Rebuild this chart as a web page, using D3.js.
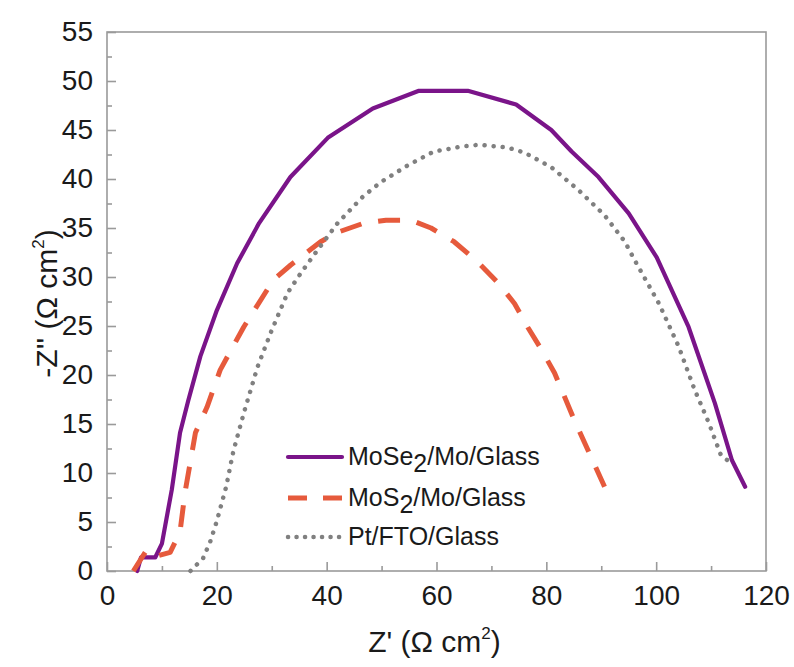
<!DOCTYPE html>
<html>
<head>
<meta charset="utf-8">
<script src="https://cdn.jsdelivr.net/npm/d3@7"></script>
<style>
	body { margin: 0; background: #fff; }
	svg { display: block; }
</style>
</head>
<body>
<svg id="chart" width="794" height="667"></svg>
<script>
// Nyquist plots: [Z', -Z'']
var mose2 = [[5.5,0],[6.2,1.4],[8.8,1.4],[10,2.8],[11.8,8.3],[13.3,14.1],[14.8,17.4],[17,21.9],[20,26.6],[23.7,31.4],[27.7,35.5],[33.4,40.2],[40.2,44.2],[48.4,47.2],[56.8,49],[61.4,49],[65.7,49],[74.5,47.6],[80.9,45],[84.6,42.8],[89.5,40.2],[95,36.5],[100.1,32],[105.9,24.9],[110.7,17.1],[113.8,11.3],[116.2,8.6]];
var mos2 = [[4.8,0],[7.3,2.2],[9.5,1.6],[11.5,1.9],[13.3,4],[14.2,8],[16.1,14.1],[18.2,16.7],[20.6,20.5],[24.9,24.9],[30.3,29.7],[33.4,31.2],[38.9,33.6],[42.2,34.6],[46.8,35.5],[50.8,35.8],[55.3,35.8],[59,35],[63.2,33.6],[67.2,31.7],[71.2,29.4],[74.2,27.3],[76.7,24.8],[79.1,22.6],[81.5,20.2],[85.1,15.4],[90.6,8.6]];
var ptfto = [[15.2,0],[17.5,1.3],[18.8,3],[20,5.1],[21.7,8.6],[23,12.2],[24.9,16.1],[27.4,20.8],[29.8,24.3],[32.9,28.4],[35.3,30.4],[38.4,32.8],[42,35.5],[46.6,38.2],[49.9,39.7],[54.8,41.4],[59.5,42.8],[64.5,43.3],[67.8,43.5],[73,43.2],[76,42.7],[80.9,41.2],[85.8,38.9],[90.6,36.3],[94.3,33.6],[96.1,31.7],[100.5,27.3],[104.1,22.9],[107,18.5],[109.6,15.1],[111.8,11.8],[114.2,10.8]];

var xTicks = [0,20,40,60,80,100,120];
var xMinor = [10,30,50,70,90,110];
var yTicks = [0,5,10,15,20,25,30,35,40,45,50,55];
var yMinor = [2.5,7.5,12.5,17.5,22.5,27.5,32.5,37.5,42.5,47.5,52.5];

var seriesNames = [["MoSe","2","/Mo/Glass"],["MoS","2","/Mo/Glass"],["Pt/FTO/Glass","",""]];

var margin = {top: 32, right: 28, bottom: 96, left: 107};
var width = 794 - margin.left - margin.right;
var height = 667 - margin.top - margin.bottom;
var font = "Liberation Sans, Arial, sans-serif";
var axisColour = "#9a9a9a";
var textColour = "#1a1a1a";

var x = d3.scaleLinear().domain([0,120]).range([0,width]);
var y = d3.scaleLinear().domain([0,55]).range([height,0]);

var svg = d3.select("#chart")
	.append("g")
		.attr("transform","translate("+margin.left+","+margin.top+")");

// frame
svg.append("rect")
	.attr("width",width)
	.attr("height",height)
	.attr("fill","none")
	.attr("stroke",axisColour)
	.attr("stroke-width",1.6);

// ticks point inward, labels outside
var xAxis = d3.axisBottom(x).tickValues(xTicks).tickSize(-9).tickPadding(14).tickFormat(d3.format("d"));
var gx = svg.append("g")
	.attr("transform","translate(0,"+height+")")
	.call(xAxis);
gx.select(".domain").remove();
gx.selectAll("line").attr("stroke",axisColour).attr("stroke-width",1.6);
gx.selectAll("text").attr("font-family",font).attr("font-size",28).attr("fill",textColour);

var gxm = svg.append("g")
	.attr("transform","translate(0,"+height+")")
	.call(d3.axisBottom(x).tickValues(xMinor).tickSize(-5).tickFormat(""));
gxm.select(".domain").remove();
gxm.selectAll("line").attr("stroke",axisColour).attr("stroke-width",1.6);

var yAxis = d3.axisLeft(y).tickValues(yTicks).tickSize(-9).tickPadding(14).tickFormat(d3.format("d"));
var gy = svg.append("g").call(yAxis);
gy.select(".domain").remove();
gy.selectAll("line").attr("stroke",axisColour).attr("stroke-width",1.6);
gy.selectAll("text").attr("font-family",font).attr("font-size",28).attr("fill",textColour);

var gym = svg.append("g")
	.call(d3.axisLeft(y).tickValues(yMinor).tickSize(-5).tickFormat(""));
gym.select(".domain").remove();
gym.selectAll("line").attr("stroke",axisColour).attr("stroke-width",1.6);

// axis titles
var xt = svg.append("text")
	.attr("x",width/2 - 2)
	.attr("y",height + 81)
	.attr("text-anchor","middle")
	.attr("font-family",font)
	.attr("font-size",30)
	.attr("fill",textColour);
xt.append("tspan").text("Z'  (\u03A9 cm");
xt.append("tspan").attr("font-size",17).attr("dy",-13).text("2");
xt.append("tspan").attr("dy",13).text(")");

var yt = svg.append("text")
	.attr("transform","translate(-50,"+(height/2 + 2)+") rotate(-90)")
	.attr("text-anchor","middle")
	.attr("font-family",font)
	.attr("font-size",30)
	.attr("fill",textColour);
yt.append("tspan").text("-Z'' (\u03A9 cm");
yt.append("tspan").attr("font-size",17).attr("dy",-13).text("2");
yt.append("tspan").attr("dy",13).text(")");

var line = d3.line()
	.x(function(d) { return x(d[0]); })
	.y(function(d) { return y(d[1]); });

var styles = [
	{colour:"#7a1489", width:4.2, dash:null, legendDash:null, cap:"round"},
	{colour:"#e65a3c", width:5, dash:"22 17", legendDash:"19 16", cap:"butt"},
	{colour:"#808080", width:4.5, dash:"0.1 9", legendDash:"0.1 8.4", cap:"round"}
];
var allData = [mose2, mos2, ptfto];

var charts = svg.append("g").attr("class","charts");
eachOf(allData,function(values,i){
	var st = styles[i];
	var p = charts.append("path")
		.datum(values)
		.attr("fill","none")
		.attr("stroke",st.colour)
		.attr("stroke-width",st.width)
		.attr("stroke-linejoin","round")
		.attr("stroke-linecap",st.cap)
		.attr("d",line);
	if (st.dash) {
		p.attr("stroke-dasharray",st.dash);
	}
});

// legend
var legendRows = [457, 498, 537];
var legend = svg.append("g").attr("class","legend");
eachOf(seriesNames,function(name,i){
	var st = styles[i];
	var ly = legendRows[i] - margin.top;
	var l = legend.append("line")
		.attr("x1",288 - margin.left)
		.attr("x2",342 - margin.left)
		.attr("y1",ly)
		.attr("y2",ly)
		.attr("stroke",st.colour)
		.attr("stroke-width",st.width)
		.attr("stroke-linecap",st.cap);
	if (st.legendDash) {
		l.attr("stroke-dasharray",st.legendDash);
	}
	var t = legend.append("text")
		.attr("x",348 - margin.left)
		.attr("y",ly + 8)
		.attr("font-family",font)
		.attr("font-size",25)
		.attr("fill",textColour);
	t.append("tspan").text(name[0]);
	if (name[1]) {
		t.append("tspan").attr("dy",7).text(name[1]);
		t.append("tspan").attr("dy",-7).text(name[2]);
	}
});

function eachOf(arr,fn){
	for (var i = 0; i < arr.length; i++) {
		fn(arr[i],i);
	}
}
</script>
</body>
</html>
